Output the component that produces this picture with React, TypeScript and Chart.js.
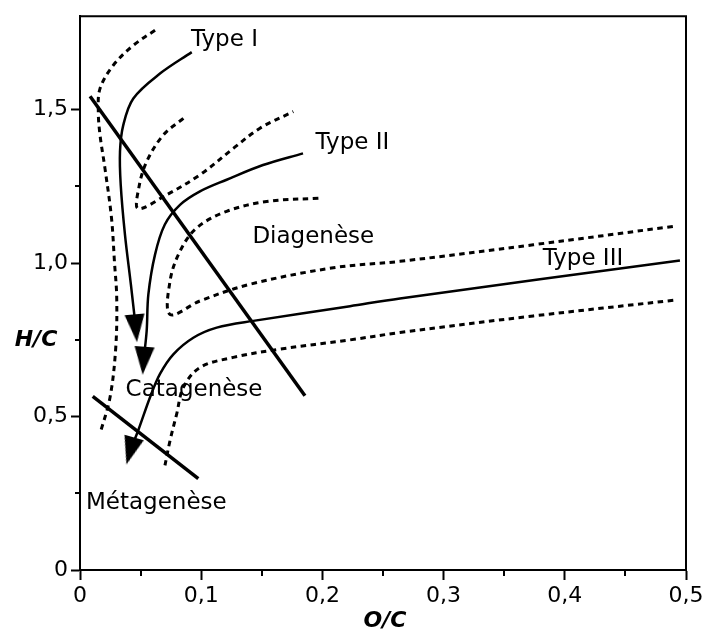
import { useEffect, useRef } from 'react';
import { Chart, registerables } from 'chart.js';

Chart.register(...registerables);

// Axis ticks
const xTicks = [0, 0.1, 0.2, 0.3, 0.4, 0.5];
const yTicks = [0, 0.5, 1.0, 1.5];
const xMinorTicks = [0.05, 0.15, 0.25, 0.35, 0.45];
const yMinorTicks = [0.25, 0.75, 1.25];

// Evolution paths (O/C, H/C)
const typeI: [number, number][] = [
  [0.0922, 1.688], [0.066, 1.618], [0.044, 1.537], [0.0357, 1.45], [0.033, 1.364],
  [0.0336, 1.255], [0.0371, 1.093], [0.042, 0.93], [0.046, 0.79],
];
const typeII: [number, number][] = [
  [0.184, 1.358], [0.151, 1.32], [0.121, 1.272], [0.099, 1.234], [0.0825, 1.19],
  [0.07, 1.126], [0.0619, 1.028], [0.0564, 0.898], [0.055, 0.779], [0.0525, 0.685],
];
const typeIII: [number, number][] = [
  [0.495, 1.009], [0.264, 0.885], [0.2228, 0.86], [0.143, 0.812], [0.1128, 0.79],
  [0.0935, 0.757], [0.077, 0.703], [0.066, 0.639], [0.0578, 0.563], [0.048, 0.4545], [0.0415, 0.39],
];

// Envelopes (dashed)
const envelopeLeft: [number, number][] = [
  [0.0619, 1.759], [0.044, 1.71], [0.0275, 1.645], [0.0165, 1.569], [0.0151, 1.494],
  [0.0165, 1.418], [0.0206, 1.309], [0.026, 1.147], [0.0285, 1.0], [0.0303, 0.887],
  [0.0295, 0.725], [0.0248, 0.563], [0.0165, 0.444],
];
const envelopeUpper: [number, number][] = [
  [0.0853, 1.472], [0.0688, 1.418], [0.055, 1.331], [0.0485, 1.245], [0.048, 1.178],
  [0.0715, 1.223], [0.099, 1.288], [0.1265, 1.374], [0.1485, 1.44], [0.176, 1.494],
];
const envelopeMiddle: [number, number][] = [
  [0.1967, 1.212], [0.154, 1.201], [0.121, 1.169], [0.0963, 1.115], [0.0825, 1.039],
  [0.0743, 0.942], [0.0743, 0.833], [0.099, 0.877], [0.14, 0.931], [0.209, 0.985],
  [0.264, 1.006], [0.374, 1.06], [0.4895, 1.12],
];
const envelopeLower: [number, number][] = [
  [0.4895, 0.879], [0.374, 0.828], [0.264, 0.774], [0.2228, 0.75], [0.165, 0.72],
  [0.1265, 0.693], [0.099, 0.66], [0.0853, 0.595], [0.0798, 0.509], [0.0743, 0.422], [0.0701, 0.341],
];

// Zone boundaries
const diagenesisLimit: [number, number][] = [[0.0083, 1.544], [0.1856, 0.568]];
const metagenesisLimit: [number, number][] = [[0.0105, 0.566], [0.0976, 0.298]];

// Arrow heads
const arrowPoints: [number, number][] = [[0.046, 0.788], [0.0525, 0.682], [0.0415, 0.388]];
const arrowRotations = [-5, 4, 16];

// Annotations
const labelTexts = ['Type I', 'Type II', 'Diagenèse', 'Type III', 'Catagenèse', 'Métagenèse'];
const labelX = [0.1192, 0.2248, 0.1925, 0.415, 0.0941, 0.063];
const labelY = [1.726, 1.393, 1.084, 1.013, 0.588, 0.219];

const FONT = '"DejaVu Sans", "Noto Sans", sans-serif';

const toXY = (arr: [number, number][]) => arr.map(([x, y]) => ({ x, y }));

const fmt = (v: number) => (v === 0 ? '0' : v.toFixed(1).replace('.', ','));

function makeArrowImage() {
  const c = document.createElement('canvas');
  c.width = 20;
  c.height = 28;
  const g = c.getContext('2d')!;
  g.fillStyle = '#000';
  g.beginPath();
  g.moveTo(0, 0);
  g.lineTo(20, 0);
  g.lineTo(10, 28);
  g.closePath();
  g.fill();
  return c;
}

const decorPlugin = {
  id: 'decor',
  afterDraw(chart: any) {
    const { ctx, chartArea: a, scales } = chart;
    const x = scales.x;
    const y = scales.y;
    ctx.save();
    ctx.strokeStyle = '#000';
    ctx.lineWidth = 2;
    ctx.beginPath();
    ctx.moveTo(a.left, a.top);
    ctx.lineTo(a.right, a.top);
    ctx.lineTo(a.right, a.bottom);
    ctx.stroke();

    ctx.beginPath();
    xMinorTicks.forEach((v) => {
      const px = Math.round(x.getPixelForValue(v));
      ctx.moveTo(px, a.bottom);
      ctx.lineTo(px, a.bottom + 6);
    });
    yMinorTicks.forEach((v) => {
      const py = Math.round(y.getPixelForValue(v));
      ctx.moveTo(a.left, py);
      ctx.lineTo(a.left - 5, py);
    });
    ctx.stroke();

    ctx.fillStyle = '#000';
    ctx.textAlign = 'center';
    ctx.textBaseline = 'middle';
    ctx.font = `23px ${FONT}`;
    labelTexts.forEach((t, i) => {
      ctx.fillText(t, x.getPixelForValue(labelX[i]), y.getPixelForValue(labelY[i]));
    });

    ctx.font = `italic bold 22px ${FONT}`;
    ctx.fillText('H/C', 36, y.getPixelForValue(0.75));
    ctx.fillText('O/C', (a.left + a.right) / 2 + 2, a.bottom + 51);
    ctx.restore();
  },
};

export default function App() {
  const ref = useRef<HTMLCanvasElement>(null);

  useEffect(() => {
    if (!ref.current) return;
    const arrowImg = makeArrowImage();
    const solid = (data: [number, number][], width = 2.5) => ({
      data: toXY(data),
      showLine: true,
      borderColor: '#000',
      borderWidth: width,
      pointRadius: 0,
      tension: 0.35,
      fill: false,
    });
    const dashed = (data: [number, number][]) => ({
      ...solid(data, 3),
      borderDash: [5.5, 4.5],
    });

    const chart = new Chart(ref.current, {
      type: 'scatter',
      data: {
        datasets: [
          solid(typeI),
          solid(typeII),
          solid(typeIII),
          dashed(envelopeLeft),
          dashed(envelopeUpper),
          dashed(envelopeMiddle),
          dashed(envelopeLower),
          { ...solid(diagenesisLimit, 3.5), tension: 0 },
          { ...solid(metagenesisLimit, 3.5), tension: 0 },
          {
            data: toXY(arrowPoints),
            showLine: false,
            pointStyle: arrowImg as any,
            pointRadius: 10,
            rotation: arrowRotations as any,
            backgroundColor: '#000',
            borderColor: '#000',
          },
        ] as any,
      },
      options: {
        animation: false,
        responsive: false,
        events: [],
        layout: { padding: { top: 14, right: 21, left: 0, bottom: 0 } },
        plugins: { legend: { display: false }, tooltip: { enabled: false } },
        scales: {
          x: {
            type: 'linear',
            min: 0,
            max: 0.5,
            afterFit: (s: any) => { s.height = 60; },
            afterBuildTicks: (s: any) => { s.ticks = xTicks.map((v) => ({ value: v })); },
            ticks: {
              color: '#000',
              font: { family: FONT, size: 22 },
              padding: 3,
              maxRotation: 0,
              callback: (v: any) => fmt(Number(v)),
            },
            grid: { drawOnChartArea: false, drawTicks: true, tickLength: 10, tickWidth: 2, tickColor: '#000' },
            border: { display: true, width: 2, color: '#000' },
          },
          y: {
            type: 'linear',
            min: 0,
            max: 1.805,
            afterFit: (s: any) => { s.width = 80; },
            afterBuildTicks: (s: any) => { s.ticks = yTicks.map((v) => ({ value: v })); },
            ticks: {
              color: '#000',
              font: { family: FONT, size: 22 },
              padding: 3,
              callback: (v: any) => fmt(Number(v)),
            },
            grid: { drawOnChartArea: false, drawTicks: true, tickLength: 9, tickWidth: 2, tickColor: '#000' },
            border: { display: true, width: 2, color: '#000' },
          },
        },
      },
      plugins: [decorPlugin],
    });
    return () => chart.destroy();
  }, []);

  return (
    <div style={{ position: 'absolute', left: 0, top: 0, width: 707, height: 630, background: '#fff' }}>
      <canvas ref={ref} width={707} height={630} style={{ display: 'block' }} />
    </div>
  );
}
